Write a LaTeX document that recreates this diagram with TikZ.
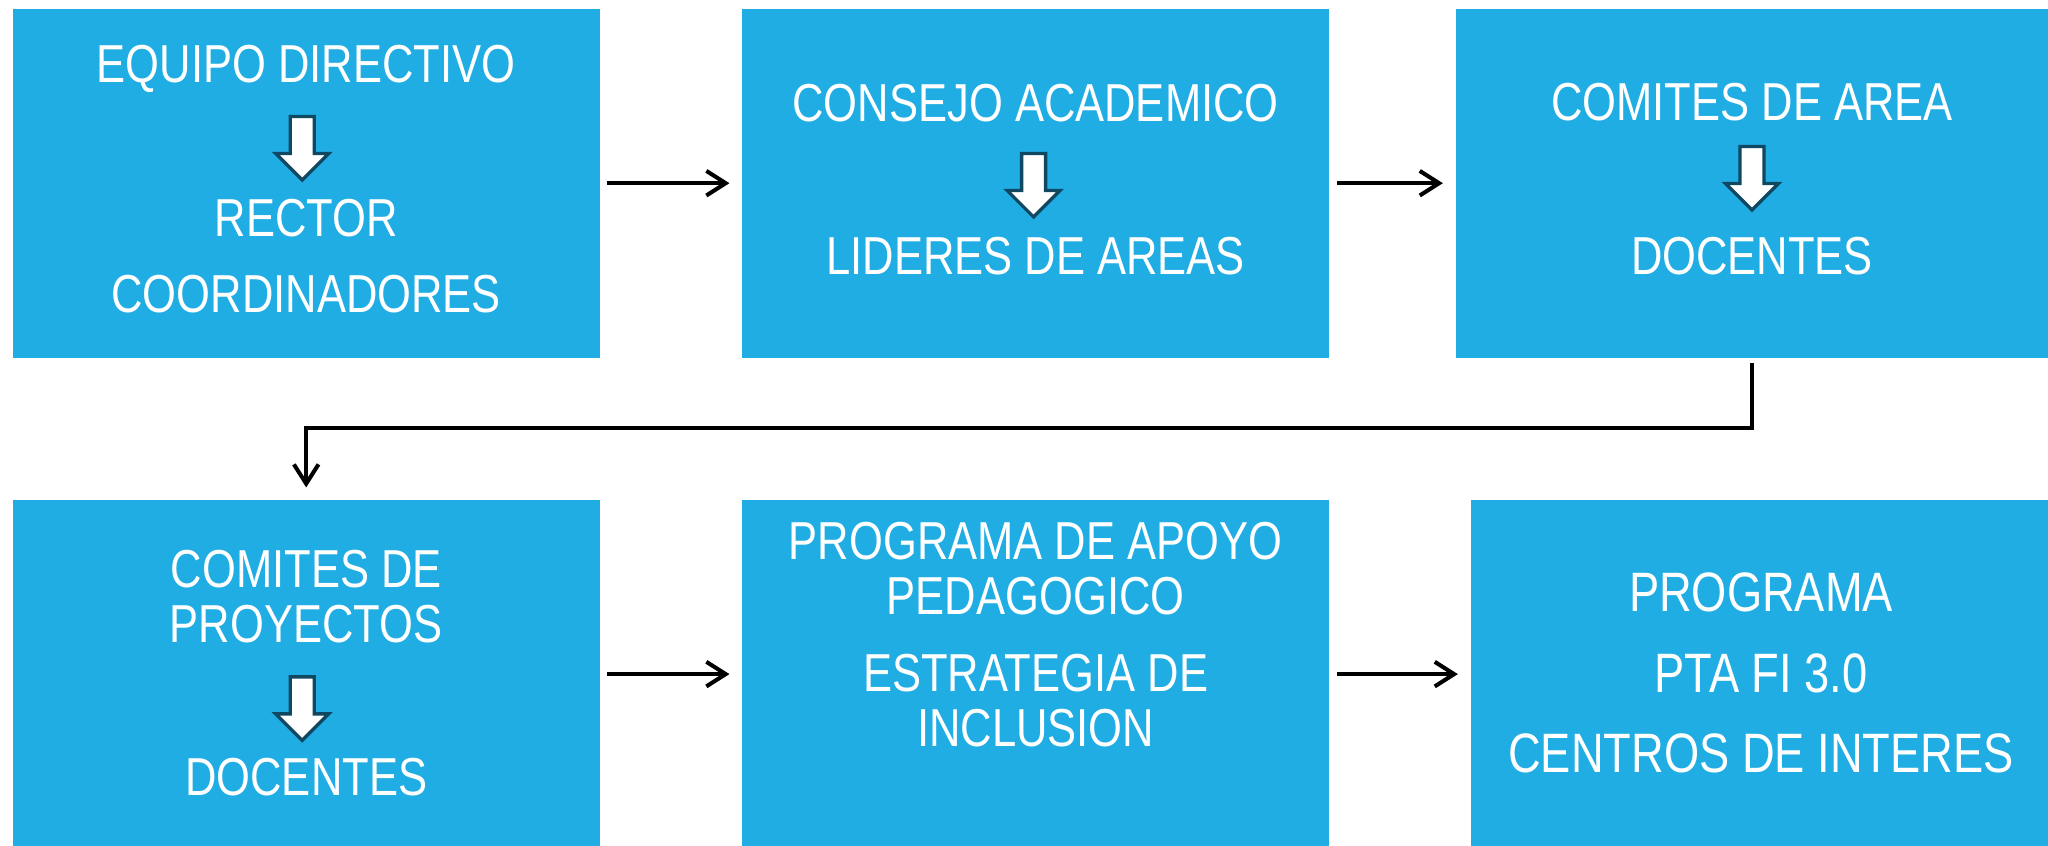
\documentclass[tikz,border=0pt]{standalone}
\usepackage{fontspec}
\setmainfont{Liberation Sans}[FakeStretch=0.815]
\usetikzlibrary{arrows.meta,positioning}
\definecolor{boxblue}{HTML}{1FADE4}
\definecolor{arrowdark}{HTML}{104861}

\tikzset{hollowdown/.pic={
  \draw[draw=arrowdark,fill=white,line width=0.95pt]
    (-0.12,0) -- (0.12,0) -- (0.12,-0.37) -- (0.265,-0.37) -- (0,-0.635)
    -- (-0.265,-0.37) -- (-0.12,-0.37) -- cycle;}}

\begin{document}
\begin{tikzpicture}[node distance=1.41cm,
    link/.style={-{Straight Barb[length=5.5pt,width=7pt]},line width=1.15pt,
                 shorten <=2pt,shorten >=3.4pt},
    blockbox/.style={fill=boxblue,minimum width=5.87cm,minimum height=3.49cm,inner sep=0pt},
    txt/.style={text=white,anchor=base,inner sep=0pt,font=\fontsize{15.2}{18}\selectfont},
    txtbig/.style={txt,font=\fontsize{15.8}{18}\selectfont}]
  \useasboundingbox (0,0) rectangle (20.48,-8.46);

  % the six blocks
  \node[blockbox,anchor=north west] (b1) at (0.12,-0.08) {};
  \node[blockbox,right=of b1]                    (b2) {};
  \node[blockbox,right=1.25cm of b2,minimum width=5.93cm] (b3) {};
  \node[blockbox,below=of b1,minimum height=3.48cm] (b4) {};
  \node[blockbox,right=of b4,minimum height=3.48cm] (b5) {};
  \node[blockbox,right=1.4cm of b5,minimum height=3.48cm,minimum width=5.81cm] (b6) {};

  % texts
  \node[txt] (b1a) at ([yshift=-0.75cm]b1.north) {EQUIPO DIRECTIVO};
  \pic at ([xshift=-0.04cm,yshift=-1.085cm]b1.north) {hollowdown};
  \node[txt] (b1b) at ([yshift=-2.29cm]b1.north) {RECTOR};
  \node[txt] (b1c) at ([yshift=-3.05cm]b1.north) {COORDINADORES};

  \node[txt] (b2a) at ([yshift=-1.14cm]b2.north) {CONSEJO ACADEMICO};
  \pic at ([xshift=-0.02cm,yshift=-1.455cm]b2.north) {hollowdown};
  \node[txt] (b2b) at ([yshift=-2.67cm]b2.north) {LIDERES DE AREAS};

  \node[txt] (b3a) at ([yshift=-1.13cm]b3.north) {COMITES DE AREA};
  \pic at ([yshift=-1.385cm]b3.north) {hollowdown};
  \node[txt] (b3b) at ([yshift=-2.67cm]b3.north) {DOCENTES};

  \node[txt] (b4a) at ([yshift=-0.88cm]b4.north) {COMITES DE};
  \node[txt] (b4b) at ([yshift=-1.43cm]b4.north) {PROYECTOS};
  \pic at ([xshift=-0.04cm,yshift=-1.775cm]b4.north) {hollowdown};
  \node[txt] (b4c) at ([yshift=-2.96cm]b4.north) {DOCENTES};

  \node[txt] (b5a) at ([yshift=-0.60cm]b5.north) {PROGRAMA DE APOYO};
  \node[txt] (b5b) at ([yshift=-1.15cm]b5.north) {PEDAGOGICO};
  \node[txt] (b5c) at ([yshift=-1.92cm]b5.north) {ESTRATEGIA DE};
  \node[txt] (b5d) at ([yshift=-2.47cm]b5.north) {INCLUSION};

  \node[txtbig] (b6a) at ([yshift=-1.12cm]b6.north) {PROGRAMA};
  \node[txtbig] (b6b) at ([yshift=-1.93cm]b6.north) {PTA FI 3.0};
  \node[txtbig] (b6c) at ([yshift=-2.73cm]b6.north) {CENTROS DE INTERES};

  % connectors
  \draw[link] (b1) -- (b2);
  \draw[link] (b2) -- (b3);
  \draw[link,shorten <=1.4pt] (b3.south) -- ++(0,-0.7) -| (b4.north);
  \draw[link] (b4) -- (b5);
  \draw[link] (b5) -- (b6);
\end{tikzpicture}
\end{document}
